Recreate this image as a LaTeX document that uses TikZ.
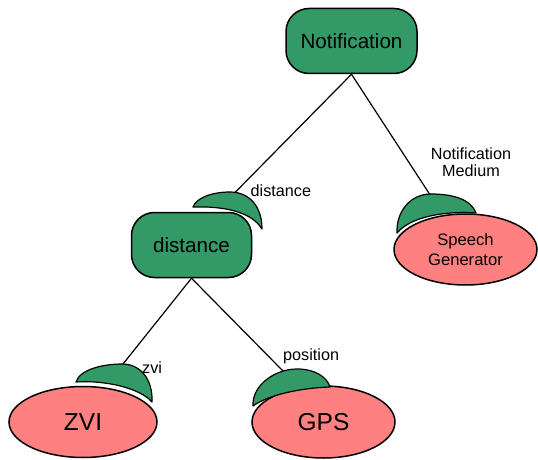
\documentclass[tikz,border=0pt]{standalone}
\usepackage{fontspec}
\setmainfont{Liberation Sans}
\usetikzlibrary{shapes.geometric}
\definecolor{featgreen}{HTML}{339966}
\definecolor{comppink}{HTML}{FF8080}

\begin{document}
\begin{tikzpicture}[x=1pt,y=-1pt,
  feature/.style={draw=black, line width=1.5pt, fill=featgreen, rectangle,
    rounded corners=23pt, minimum width=#1, minimum height=65pt, inner sep=0pt,
    font=\fontsize{20.6}{24}\selectfont},
  component/.style={draw=black, line width=1.5pt, fill=comppink, ellipse,
    inner sep=0pt, align=center},
  socket/.style={draw=black, line width=1.2pt, fill=featgreen, line join=round},
  link/.style={draw=black, line width=1.2pt},
  lbl/.style={font=\fontsize{16.2}{16.7}\selectfont, inner sep=0pt, align=center}
]
\useasboundingbox (0,0) rectangle (538,460);

% feature and component nodes
\node[feature=131pt] (notif) at (351.5,41) {Notification};
\node[feature=120pt] (dist) at (191.5,245) {distance};
\node[component, minimum width=143pt, minimum height=71pt,
      font=\fontsize{16.6}{20}\selectfont] (speech) at (465.5,249.5) {Speech\\Generator};
\node[component, minimum width=148pt, minimum height=71pt,
      font=\fontsize{24.5}{28}\selectfont] (zvi) at (83,422) {ZVI};
\node[component, minimum width=143pt, minimum height=72pt,
      font=\fontsize{24.5}{28}\selectfont] (gps) at (323.5,422) {GPS};

% connector end points on the sockets
\coordinate (sockd) at (235,192.5);
\coordinate (socks) at (429.5,194);
\coordinate (sockz) at (123,364);
\coordinate (sockg) at (283,371);

% connectors
\draw[link] (notif.south) -- (sockd);
\draw[link] (notif.south) -- (socks);
\draw[link] (dist.south) -- (sockz);
\draw[link] (dist.south) -- (sockg);

% sockets
\draw[socket] (193,207) .. controls (196,198) and (212,192) .. (230,192)
  .. controls (248,192) and (262,205) .. (262,229)
  .. controls (252,213) and (228,206) .. (193,207) -- cycle;
\draw[socket] (397,233) .. controls (396,212) and (410,194) .. (431,194)
  .. controls (452,194) and (471,199) .. (476,213)
  .. controls (450,211) and (412,215) .. (397,233) -- cycle;
\draw[socket] (76,382) .. controls (80,369) and (104,364) .. (122,364)
  .. controls (141,364) and (153,380) .. (152,402)
  .. controls (140,388) and (105,380) .. (76,382) -- cycle;
\draw[socket] (253,406) .. controls (252,385) and (275,369) .. (297,369)
  .. controls (315,369) and (327,377) .. (330,387)
  .. controls (300,388) and (268,395) .. (253,406) -- cycle;

% connector labels
\node[lbl, anchor=base west] (ldist) at (250.5,196.7) {distance};
\node[lbl, anchor=center] (lmed) at (471,162.4) {Notification\\Medium};
\node[lbl, anchor=base west] (lzvi) at (142,373) {zvi};
\node[lbl, anchor=base west] (lpos) at (283,360) {position};
\end{tikzpicture}
\end{document}
